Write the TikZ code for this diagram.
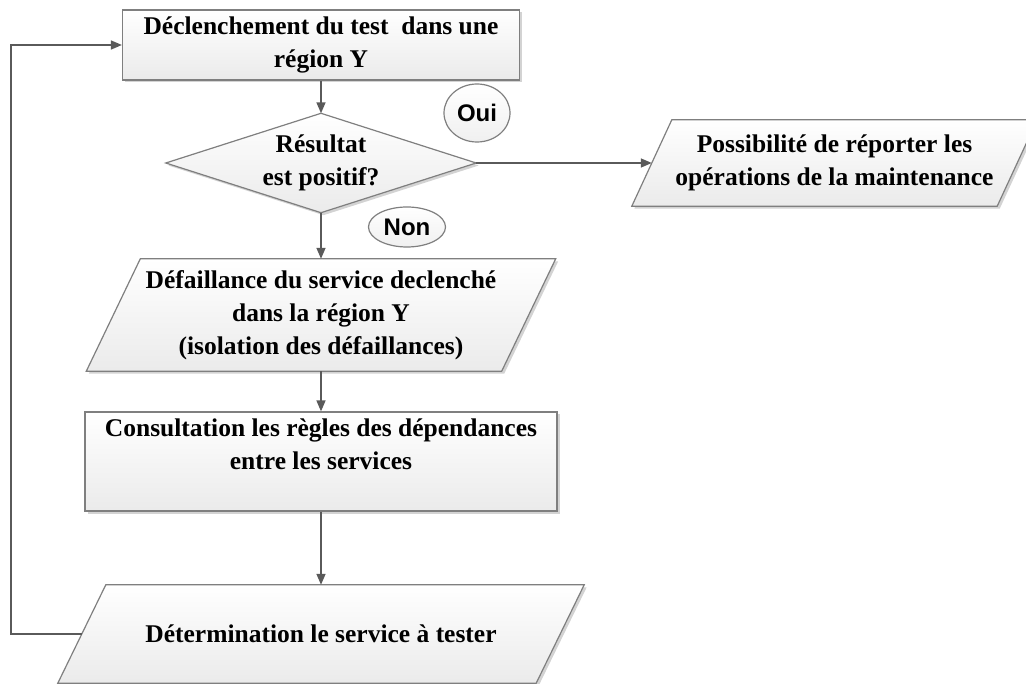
\documentclass[tikz,border=0pt]{standalone}
\usepackage{fontspec}
\setmainfont{Liberation Serif}
\newfontfamily\ouinonfont{Liberation Sans}
\usetikzlibrary{arrows.meta,shapes.geometric,shadows,backgrounds}
\definecolor{edgegray}{HTML}{7F7F7F}
\definecolor{linegray}{HTML}{5A5A5A}
\begin{document}
\begin{tikzpicture}[x=1pt,y=-1pt,
  txt/.style={font=\fontsize{25.5}{33}\selectfont\bfseries, align=center, inner sep=0pt},
  shapefill/.style={draw=edgegray, line width=1.2pt, top color=white, bottom color=gray!16,
    drop shadow={shadow xshift=2.5pt, shadow yshift=-2.5pt, opacity=0.35, fill=gray}},
  conn/.style={draw=linegray, line width=1.5pt, -{Triangle[length=11pt,width=9pt]}},
  tag/.style={ellipse, draw=edgegray, line width=1.2pt, top color=white, bottom color=gray!12,
    font=\ouinonfont\bfseries\fontsize{24}{28}\selectfont, inner sep=0pt},
]
\useasboundingbox (0,0) rectangle (1026,684);

% nodes
\node[txt, shapefill, rectangle, minimum width=397, minimum height=70] (start) at (321,45)
  {Déclenchement du test~ dans une\\région Y};
\node[txt, minimum width=310, minimum height=99] (dec) at (321,163) {Résultat\\est positif?};
\node[txt, minimum width=365, minimum height=86] (rep) at (834.5,163)
  {Possibilité de réporter les\\opérations de la maintenance};
\node[txt, minimum width=415, minimum height=112] (def) at (321,315)
  {Défaillance du service declenché\\dans la région Y\\(isolation des défaillances)};
\node[shapefill, rectangle, minimum width=472, minimum height=99, inner sep=0pt] (cons) at (321,461.5) {};
\node[txt] (consTxt) at ([yshift=17.5pt]cons.center)
  {Consultation les règles des dépendances\\entre les services};
\node[txt, minimum width=478, minimum height=98] (det) at (321,634)
  {Détermination le service à tester};
\node[tag, minimum width=66, minimum height=58] (oui) at (477,113) {Oui};
\node[tag, minimum width=77, minimum height=40] (non) at (407,227) {Non};

% shapes behind text
\begin{pgfonlayer}{background}
  \path[shapefill] (dec.north) -- (dec.east) -- (dec.south) -- (dec.west) -- cycle;
  \path[shapefill] ([xshift=20pt]rep.north west) -- ([xshift=20pt]rep.north east)
    -- ([xshift=-20pt]rep.south east) -- ([xshift=-20pt]rep.south west) -- cycle;
  \path[shapefill] ([xshift=27pt]def.north west) -- ([xshift=27pt]def.north east)
    -- ([xshift=-27pt]def.south east) -- ([xshift=-27pt]def.south west) -- cycle;
  \path[shapefill] ([xshift=24pt]det.north west) -- ([xshift=24pt]det.north east)
    -- ([xshift=-24pt]det.south east) -- ([xshift=-24pt]det.south west) -- cycle;
\end{pgfonlayer}

% connectors
\coordinate (loopc) at (11,634);
\draw[conn] (start.south) -- (dec.north);
\draw[conn] (dec.east) -- (rep.west);
\draw[conn] (dec.south) -- (def.north);
\draw[conn] (def.south) -- (cons.north);
\draw[conn] (cons.south) -- (det.north);
\draw[conn] (det.west) -- (loopc) |- (start.west);
\end{tikzpicture}
\end{document}
